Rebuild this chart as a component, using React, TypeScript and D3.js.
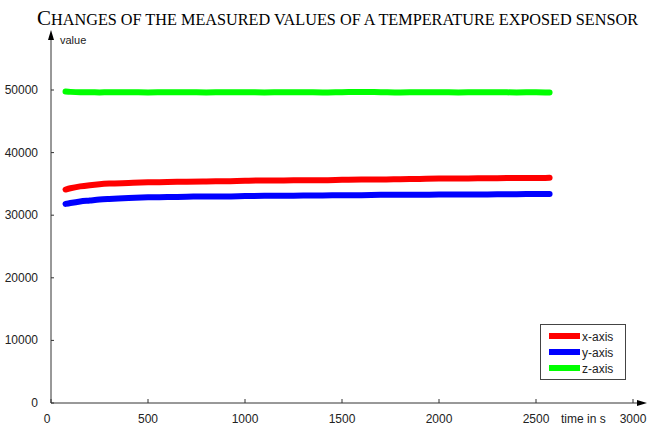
import React from "react";
import * as d3 from "d3";

const times = [75, 100, 150, 200, 250, 300, 400, 500, 600, 700, 800, 900, 1000, 1100, 1200, 1300, 1400, 1500, 1600, 1700, 1800, 1900, 2000, 2100, 2200, 2300, 2400, 2500, 2570];
const xAxisValues = [34100, 34300, 34600, 34800, 34950, 35050, 35150, 35250, 35300, 35350, 35400, 35420, 35500, 35550, 35550, 35600, 35600, 35650, 35700, 35700, 35750, 35800, 35850, 35850, 35900, 35900, 35950, 35950, 36000];
const yAxisValues = [31800, 31950, 32200, 32350, 32500, 32600, 32750, 32850, 32900, 32950, 33000, 33000, 33050, 33100, 33100, 33150, 33150, 33200, 33200, 33250, 33250, 33250, 33300, 33300, 33300, 33350, 33350, 33400, 33400];
const zAxisValues = [49750, 49700, 49650, 49650, 49600, 49650, 49650, 49600, 49650, 49650, 49600, 49650, 49650, 49600, 49650, 49650, 49600, 49650, 49700, 49650, 49600, 49650, 49650, 49600, 49650, 49650, 49600, 49650, 49600];
const xTicks = [0, 500, 1000, 1500, 2000, 2500, 3000];
const yTicks = [0, 10000, 20000, 30000, 40000, 50000];
const seriesNames = ["x-axis", "y-axis", "z-axis"];
const seriesColors = ["#ff0000", "#0000ff", "#00ff00"];
const titleFirst = "C";
const titleRest = "HANGES OF THE MEASURED VALUES OF A TEMPERATURE EXPOSED SENSOR";

export default function App() {
  const W = 647, H = 427;
  const x = d3.scaleLinear().domain([0, 3000]).range([51, 633]);
  const y = d3.scaleLinear().domain([0, 50000]).range([403, 90]);
  const series = [xAxisValues, yAxisValues, zAxisValues];
  const line = d3.line<number>().x((_, i) => x(times[i])).y((d) => y(d)).curve(d3.curveMonotoneX);
  const axisColor = "#333";
  const font = "Arial, 'Liberation Sans', sans-serif";
  return (
    <svg width={W} height={H} style={{ position: "absolute", left: 0, top: 0, background: "#fff" }}>
      <text x={37} y={25} fontFamily="'Liberation Serif', 'Times New Roman', serif" fill="#000" textLength={601} lengthAdjust="spacingAndGlyphs">
        <tspan fontSize={22}>{titleFirst}</tspan>
        <tspan fontSize={17}>{titleRest}</tspan>
      </text>
      {series.map((s, k) => (
        <path key={k} d={line(s) || ""} fill="none" stroke={seriesColors[k]} strokeWidth={6} strokeLinecap="round" />
      ))}
      {/* axes */}
      <line x1={x(0)} x2={x(0)} y1={y(0)} y2={36} stroke={axisColor} strokeWidth={1} />
      <path d={`M${x(0)},30 L${x(0) - 3},40 L${x(0) + 3},40 Z`} fill="#000" />
      <line x1={x(0)} x2={641} y1={y(0)} y2={y(0)} stroke={axisColor} strokeWidth={1} />
      <path d={`M647,${y(0)} L637,${y(0) - 3} L637,${y(0) + 3} Z`} fill="#000" />
      {yTicks.map((t) => (
        <g key={t}>
          <line x1={x(0)} x2={x(0) + 3} y1={y(t)} y2={y(t)} stroke={axisColor} />
          <text x={38} y={y(t) + 4} textAnchor="end" fontFamily={font} fontSize={12} fill="#222">{t}</text>
        </g>
      ))}
      {xTicks.map((t) => (
        <g key={t}>
          <line x1={x(t)} x2={x(t)} y1={y(0)} y2={y(0) - 4} stroke={axisColor} />
          <text x={x(t) - (t === 0 ? 4 : 0)} y={423} textAnchor="middle" fontFamily={font} fontSize={12} fill="#222">{t}</text>
        </g>
      ))}
      <text x={60} y={44} fontFamily={font} fontSize={11} fill="#222">value</text>
      <text x={561} y={423} fontFamily={font} fontSize={12} fill="#222">time in s</text>
      {/* legend */}
      <rect x={540.5} y={324.5} width={85} height={55} fill="#fff" stroke="#444" strokeWidth={1} />
      {seriesNames.map((n, k) => (
        <g key={n}>
          <rect x={549} y={333 + k * 16} width={31} height={6} fill={seriesColors[k]} />
          <text x={582} y={341 + k * 16} fontFamily={font} fontSize={12} fill="#222">{n}</text>
        </g>
      ))}
    </svg>
  );
}
